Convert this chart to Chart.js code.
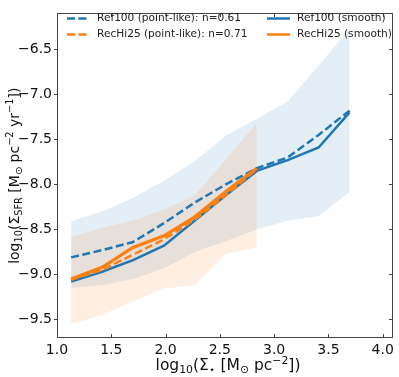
<!DOCTYPE html>
<html>
<head>
<meta charset="utf-8">
<script src="https://cdn.jsdelivr.net/npm/chart.js@4"></script>
<style>
  html, body { margin: 0; padding: 0; background: #fff; }
  canvas { display: block; }
</style>
</head>
<body>
<canvas id="sfrChart" width="399" height="377"></canvas>
<script>
// log10(Sigma_star) bin centres
const logSigmaStar = [1.13, 1.415, 1.70, 1.985, 2.27, 2.555, 2.84, 3.125, 3.41, 3.695];

// Ref100
const ref100Point  = [-8.81, -8.73, -8.64, -8.43, -8.20, -8.00, -7.82, -7.70, -7.45, -7.18];
const ref100Smooth = [-9.08, -8.97, -8.84, -8.68, -8.40, -8.12, -7.85, -7.73, -7.59, -7.20];
const ref100Upper  = [-8.41, -8.30, -8.15, -7.96, -7.74, -7.46, -7.27, -7.08, -6.68, -6.27];
const ref100Lower  = [-9.15, -9.12, -9.05, -8.93, -8.75, -8.63, -8.50, -8.40, -8.35, -8.08];

// RecHi25 (first 7 bins only)
const recHiPoint  = [-9.06, -8.95, -8.78, -8.61, -8.39, -8.12, -7.83];
const recHiSmooth = [-9.05, -8.92, -8.70, -8.57, -8.36, -8.08, -7.82];
const recHiUpper  = [-8.58, -8.48, -8.40, -8.28, -8.12, -7.72, -7.32];
const recHiLower  = [-9.55, -9.45, -9.30, -9.15, -9.12, -8.77, -8.70];

const xTicks = [1.0, 1.5, 2.0, 2.5, 3.0, 3.5, 4.0];
const yTicks = [-9.5, -9.0, -8.5, -8.0, -7.5, -7.0, -6.5];

const legendLabels = [
  'Ref100 (point-like): n=0.61',
  'RecHi25 (point-like): n=0.71',
  'Ref100 (smooth)',
  'RecHi25 (smooth)'
];

const BLUE = '#1f77b4';
const ORANGE = '#ff7f0e';
const FONT = '"DejaVu Sans", sans-serif';

const pts = (ys) => ys.map((y, i) => ({ x: logSigmaStar[i], y: y }));
const fmt = (v) => v.toFixed(1).replace('-', '\u2212');

const xTitle = [
  { t: 'log' }, { t: '10', sub: 1 }, { t: '(\u03a3' }, { t: '\u22c6', sub: 1 },
  { t: ' [M' }, { t: '\u2299', sub: 1 }, { t: ' pc' }, { t: '\u22122', sup: 1 }, { t: '])' }
];
const yTitle = [
  { t: 'log' }, { t: '10', sub: 1 }, { t: '(\u03a3' }, { t: 'SFR', sub: 1 },
  { t: ' [M' }, { t: '\u2299', sub: 1 }, { t: ' pc' }, { t: '\u22122', sup: 1 },
  { t: ' yr' }, { t: '\u22121', sup: 1 }, { t: '])' }
];

function drawRich(ctx, parts, size) {
  let w = 0;
  const items = parts.map(p => {
    const s = (p.sub || p.sup) ? size * 0.7 : size;
    ctx.font = s + 'px ' + FONT;
    const m = ctx.measureText(p.t).width;
    w += m;
    return { t: p.t, sub: p.sub, sup: p.sup, s: s, m: m };
  });
  let cx = -w / 2;
  items.forEach(p => {
    ctx.font = p.s + 'px ' + FONT;
    const dy = p.sub ? size * 0.22 : p.sup ? -size * 0.38 : 0;
    ctx.fillText(p.t, cx, dy);
    cx += p.m;
  });
}

// box + ticks
const frameAndTicks = {
  id: 'frameAndTicks',
  afterDatasetsDraw(chart) {
    const { ctx, chartArea: a, scales } = chart;
    const L = Math.round(a.left) + 0.5, R = Math.round(a.right) - 0.5;
    const T = Math.round(a.top) + 0.5, B = Math.round(a.bottom) - 0.5;
    ctx.save();
    ctx.strokeStyle = '#444';
    ctx.lineWidth = 1;
    ctx.strokeRect(L, T, R - L, B - T);
    ctx.beginPath();
    xTicks.forEach(v => {
      const px = Math.round(scales.x.getPixelForValue(v)) + 0.5;
      ctx.moveTo(px, B); ctx.lineTo(px, B - 3.5);
      ctx.moveTo(px, T); ctx.lineTo(px, T + 3.5);
    });
    yTicks.forEach(v => {
      const py = Math.round(scales.y.getPixelForValue(v)) + 0.5;
      ctx.moveTo(L, py); ctx.lineTo(L - 3.5, py);
      ctx.moveTo(R, py); ctx.lineTo(R - 3.5, py);
    });
    ctx.stroke();
    ctx.restore();
  }
};

const legendAndTitles = {
  id: 'legendAndTitles',
  afterDraw(chart) {
    const { ctx, chartArea: a } = chart;
    ctx.save();
    // legend, two columns inside the axes
    const rows = [18.5, 34.5];
    const cols = [{ x1: 67, x2: 88, tx: 97 }, { x1: 267, x2: 290, tx: 297 }];
    const styles = [
      { c: BLUE, d: [8, 3.5], w: 2.5 },
      { c: ORANGE, d: [8, 3.5], w: 2.5 },
      { c: BLUE, d: [], w: 2.5 },
      { c: ORANGE, d: [], w: 2.5 }
    ];
    legendLabels.forEach((lab, i) => {
      const col = cols[Math.floor(i / 2)], y = rows[i % 2], st = styles[i];
      ctx.beginPath();
      ctx.setLineDash(st.d);
      ctx.strokeStyle = st.c;
      ctx.lineWidth = st.w;
      ctx.moveTo(col.x1, y); ctx.lineTo(col.x2, y);
      ctx.stroke();
      ctx.setLineDash([]);
      ctx.fillStyle = '#222';
      ctx.font = '10.6px ' + FONT;
      ctx.textBaseline = 'middle';
      ctx.textAlign = 'left';
      ctx.fillText(lab, col.tx, y);
    });
    // axis titles
    ctx.fillStyle = '#111';
    ctx.textBaseline = 'alphabetic';
    ctx.textAlign = 'left';
    ctx.save();
    ctx.translate((a.left + a.right) / 2 + 3, 370);
    drawRich(ctx, xTitle, 15.5);
    ctx.restore();
    ctx.save();
    ctx.translate(18.5, (a.top + a.bottom) / 2);
    ctx.rotate(-Math.PI / 2);
    drawRich(ctx, yTitle, 14);
    ctx.restore();
    ctx.restore();
  }
};

const lineDs = (data, color, dashed, width, order) => ({
  data: pts(data),
  borderColor: color,
  borderWidth: width,
  borderDash: dashed ? [8, 3.5] : [],
  pointRadius: 0,
  tension: 0,
  fill: false,
  order: order
});

const bandDs = (data, color, fillTo, order) => ({
  data: pts(data),
  borderWidth: 0,
  borderColor: 'rgba(0,0,0,0)',
  backgroundColor: color,
  pointRadius: 0,
  tension: 0,
  fill: fillTo,
  order: order
});

const ctx = document.getElementById('sfrChart').getContext('2d');
const chart = new Chart(ctx, {
  type: 'line',
  data: {
    datasets: [
      bandDs(ref100Upper, 'rgba(31,119,180,0.12)', '+1', 7),
      bandDs(ref100Lower, 'rgba(0,0,0,0)', false, 6),
      bandDs(recHiUpper, 'rgba(255,127,14,0.12)', '+1', 5),
      bandDs(recHiLower, 'rgba(0,0,0,0)', false, 4),
      lineDs(ref100Point, BLUE, true, 2.5, 3),
      lineDs(ref100Smooth, BLUE, false, 2.5, 2),
      lineDs(recHiPoint, ORANGE, true, 2.5, 1),
      lineDs(recHiSmooth, ORANGE, false, 3.2, 0)
    ]
  },
  options: {
    responsive: false,
    animation: false,
    events: [],
    layout: { padding: { left: 0, top: 5, right: 6, bottom: 0 } },
    plugins: {
      legend: { display: false },
      tooltip: { enabled: false }
    },
    scales: {
      x: {
        type: 'linear',
        min: 1.0,
        max: 4.095,
        grid: { display: false, drawTicks: false },
        border: { display: false },
        afterBuildTicks: (s) => { s.ticks = xTicks.map(v => ({ value: v })); },
        afterFit: (s) => { s.height = 39; },
        ticks: {
          padding: 4,
          color: '#111',
          font: { family: FONT, size: 14 },
          maxRotation: 0,
          callback: (v) => fmt(v)
        }
      },
      y: {
        type: 'linear',
        min: -9.706,
        max: -6.10,
        grid: { display: false, drawTicks: false },
        border: { display: false },
        afterBuildTicks: (s) => { s.ticks = yTicks.map(v => ({ value: v })); },
        afterFit: (s) => { s.width = 57; },
        ticks: {
          padding: 5,
          color: '#111',
          font: { family: FONT, size: 14 },
          callback: (v) => fmt(v)
        }
      }
    }
  },
  plugins: [frameAndTicks, legendAndTitles]
});
</script>
</body>
</html>
